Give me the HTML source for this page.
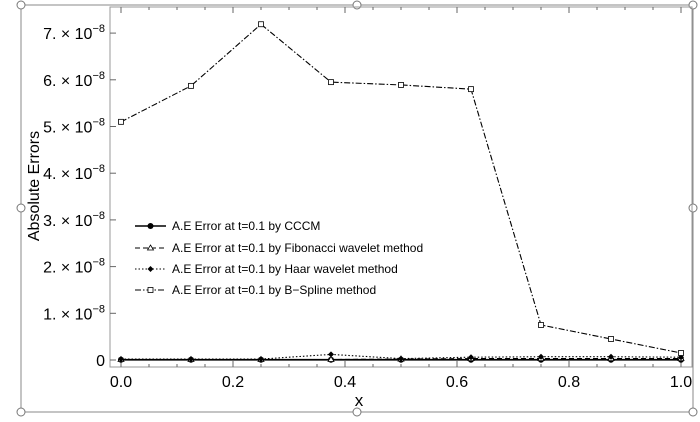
<!DOCTYPE html>
<html><head><meta charset="utf-8"><style>
body{margin:0;background:#fff}
svg{display:block;font-family:"Liberation Sans",sans-serif}
</style></head><body>
<svg id="chart" width="700" height="422" viewBox="0 0 700 422">
<g id="frame">
<rect x="21" y="5" width="672" height="407" fill="none" stroke="#888" stroke-width="1"/>
</g>
<rect x="110" y="7" width="582" height="360" fill="none" stroke="#999" stroke-width="1"/>
<g id="axes"></g>
<g id="series"></g>
<g id="legend"></g>
<text x="359" y="406" font-size="17" text-anchor="middle">x</text>
<text transform="translate(39,186) rotate(-90)" font-size="16" text-anchor="middle">Absolute Errors</text>
</svg>
<script>
const xs=[0,0.125,0.25,0.375,0.5,0.625,0.75,0.875,1.0];
const cccm=[0.005,0.005,0.005,0.005,0.005,0.005,0.005,0.005,0.005];
const fibonacci=[0.01,0.01,0.01,0.01,0.02,0.03,0.03,0.03,0.03];
const haar=[0.02,0.02,0.02,0.12,0.03,0.06,0.07,0.07,0.06];
const bspline=[5.10,5.87,7.19,5.95,5.89,5.80,0.75,0.45,0.15];
const yTicks=[0,1,2,3,4,5,6,7];
const xTicks=[0,0.2,0.4,0.6,0.8,1.0];
const legendLabels=["A.E Error at t=0.1 by CCCM","A.E Error at t=0.1 by Fibonacci wavelet method","A.E Error at t=0.1 by Haar wavelet method","A.E Error at t=0.1 by B\u2212Spline method"];
const NS="http://www.w3.org/2000/svg";
const X=v=>121+v*560, Y=v=>360-v*46.7;
function mk(tag,attrs,parent){const e=document.createElementNS(NS,tag);for(const k in attrs)e.setAttribute(k,attrs[k]);parent.appendChild(e);return e;}
const ax=document.getElementById('axes');
yTicks.forEach(t=>{
 const l=mk('line',{x1:110,x2:116,y1:Y(t),y2:Y(t),stroke:'#666'},ax);
 
 
 const tx=mk('text',{x:105,y:Y(t)+6,'font-size':16,'text-anchor':'end'},ax);
 
 
 if(t===0){tx.textContent='0';}else{
  tx.textContent=t+'. \u00d7 10';
  const s=mk('tspan',{dy:-7,'font-size':11},tx);s.textContent='\u22128';
 }
});
for(let i=0;i<=20;i++){const v=i*0.05;const big=i%4===0;
 const l=mk('line',{x1:X(v),x2:X(v),y1:367,y2:367-(big?6:3),stroke:'#666'},ax);
 
 
 const l2=mk('line',{x1:X(v),x2:X(v),y1:7,y2:7+(big?6:3),stroke:'#666'},ax);
 
 
}
xTicks.forEach(t=>{const tx=mk('text',{x:X(t),y:387,'font-size':16,'text-anchor':'middle'},ax);
 
 
 tx.textContent=t.toFixed(1);});
const sg=document.getElementById('series');
const styles=[{d:'',m:'dot'},{d:'5,3',m:'tri'},{d:'1.5,2',m:'diamond'},{d:'6,2,1.5,2',m:'sq'}];
function marker(type,x,y,p){let e;
 if(type==='dot')e=mk('circle',{cx:x,cy:y,r:3,fill:'#000'},p);
 else if(type==='tri')e=mk('path',{d:`M${x},${y-3}L${x+3},${y+2}L${x-3},${y+2}Z`,fill:'#fff',stroke:'#000','stroke-width':0.8},p);
 else if(type==='diamond')e=mk('path',{d:`M${x},${y-3}L${x+3},${y}L${x},${y+3}L${x-3},${y}Z`,fill:'#000'},p);
 else e=mk('rect',{x:x-2.5,y:y-2.5,width:5,height:5,fill:'#fff',stroke:'#000','stroke-width':0.8},p);
 return e;}
[cccm,fibonacci,haar,bspline].forEach((arr,si)=>{
 const g=mk('g',{},sg);
 
 
 const pts=arr.map((v,i)=>X(xs[i])+','+Y(v)).join(' ');
 mk('polyline',{points:pts,fill:'none',stroke:'#000','stroke-width':si===0?1.8:1.1,'stroke-dasharray':styles[si].d},g);
 arr.forEach((v,i)=>{const m=marker(styles[si].m,X(xs[i]),Y(v),g);
  
  });
});
const lg=document.getElementById('legend');
const ly=[226,248,269,290];
legendLabels.forEach((lab,i)=>{
 const g=mk('g',{},lg);
 
 
 mk('line',{x1:135,x2:166,y1:ly[i],y2:ly[i],stroke:'#000','stroke-width':i===0?1.6:1.1,'stroke-dasharray':styles[i].d},g);
 marker(styles[i].m,150.5,ly[i],g);
 const t=mk('text',{x:172,y:ly[i]+4,'font-size':12},g);t.textContent=lab;
});
const fr=document.getElementById('frame');
[[21,5],[357,5],[693,5],[21,208],[693,208],[21,412],[357,412],[693,412]].forEach(p=>{
 const c=mk('circle',{cx:p[0],cy:p[1],r:4,fill:'#fff',stroke:'#777','stroke-width':1},fr);
 
 
});
</script>
</body></html>
